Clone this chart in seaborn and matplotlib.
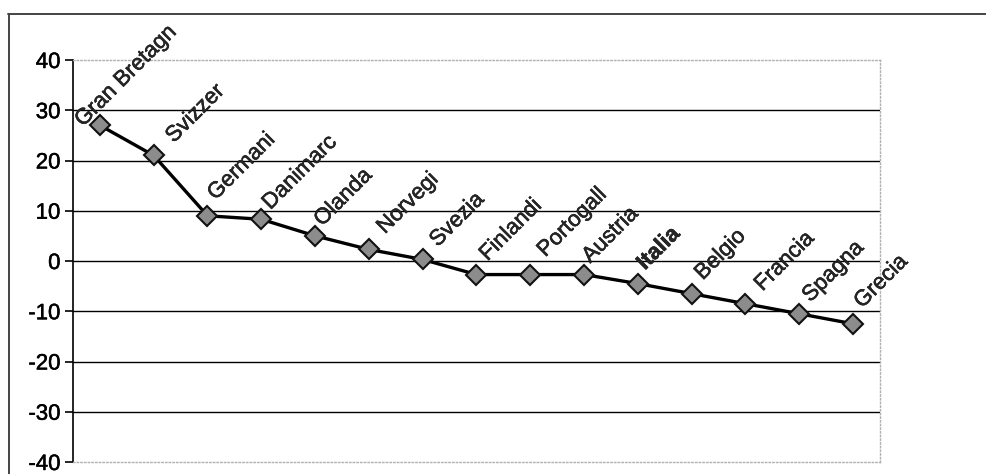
import matplotlib
matplotlib.use("Agg")
import matplotlib.pyplot as plt
import matplotlib.patheffects as pe
import seaborn as sns
from matplotlib.lines import Line2D

countries = ["Gran Bretagna", "Svizzera", "Germania", "Danimarca", "Olanda",
             "Norvegia", "Svezia", "Finlandia", "Portogallo", "Austria",
             "Italia", "Belgio", "Francia", "Spagna", "Grecia"]
# point labels as printed next to each marker
point_labels = ["Gran Bretagn", "Svizzer", "Germani", "Danimarc", "Olanda",
                "Norvegi", "Svezia", "Finlandi", "Portogall", "Austria",
                "Italia", "Belgio", "Francia", "Spagna", "Grecia"]
values = [27, 21, 9, 8.3, 5, 2.3, 0.3, -2.7, -2.7, -2.7, -4.5, -6.5, -8.5, -10.5, -12.5]
y_ticks = [-40, -30, -20, -10, 0, 10, 20, 30, 40]

# label offsets in pixels from each marker
label_offsets = [(-17, -2), (20, 12), (8, 15), (9, 9), (7, 9), (16, 15), (15, 12),
                 (11, 13), (15, 17), (6, 11), (7, 13), (11, 13), (17, 12), (11, 11), (9, 15)]

sns.set_style("white")
plt.rcParams["font.family"] = ["Liberation Sans", "DejaVu Sans"]

heavy = [pe.withStroke(linewidth=0.35, foreground="black")]

fig = plt.figure(figsize=(9.87, 4.74), dpi=100)
ax = fig.add_axes([73 / 987, 12 / 474, 807 / 987, 402 / 474])

sns.pointplot(x=countries, y=values, ax=ax, color="black", markers="D",
              linestyles="-", markersize=10, linewidth=2.4,
              markerfacecolor="#8c8c8c", markeredgecolor="#111111",
              markeredgewidth=1.5, errorbar=None)

ax.set_ylim(-40, 40)
ax.set_xlim(-0.5, len(countries) - 0.5)
ax.set_yticks(y_ticks)
ax.set_yticklabels([str(t) for t in y_ticks], fontsize=16, color="black")
for tl in ax.get_yticklabels():
    tl.set_path_effects(heavy)
ax.set_xticks([])
ax.set_xlabel("")
ax.set_ylabel("")
ax.tick_params(axis="y", length=6, width=1.2, color="black", pad=3, direction="out", left=True)

for t in y_ticks[1:-1]:
    ax.axhline(t, color="black", linewidth=1.0, zorder=0.5)

for side in ["top", "right", "bottom"]:
    ax.spines[side].set_color("#b0b0b0")
    ax.spines[side].set_linestyle(":")
    ax.spines[side].set_linewidth(1.0)
ax.spines["left"].set_color("black")
ax.spines["left"].set_linewidth(1.2)

for i, (lab, v) in enumerate(zip(point_labels, values)):
    dx, dy = label_offsets[i]
    ax.annotate(lab, (i, v), xytext=(dx, dy), textcoords="offset pixels",
                rotation=45, rotation_mode="anchor", ha="left", va="baseline",
                fontsize=16, fontweight="bold" if lab == "Italia" else "normal",
                annotation_clip=False, zorder=5, path_effects=heavy)

# outer frame of the chart area
fig.add_artist(Line2D([8 / 987, 1.0], [1 - 14 / 474, 1 - 14 / 474],
                      transform=fig.transFigure, color="#444444", linewidth=1.4))
fig.add_artist(Line2D([9 / 987, 9 / 987], [0.0, 1 - 14 / 474],
                      transform=fig.transFigure, color="#444444", linewidth=1.4))

fig.savefig("out.png", dpi=100, facecolor="white")
